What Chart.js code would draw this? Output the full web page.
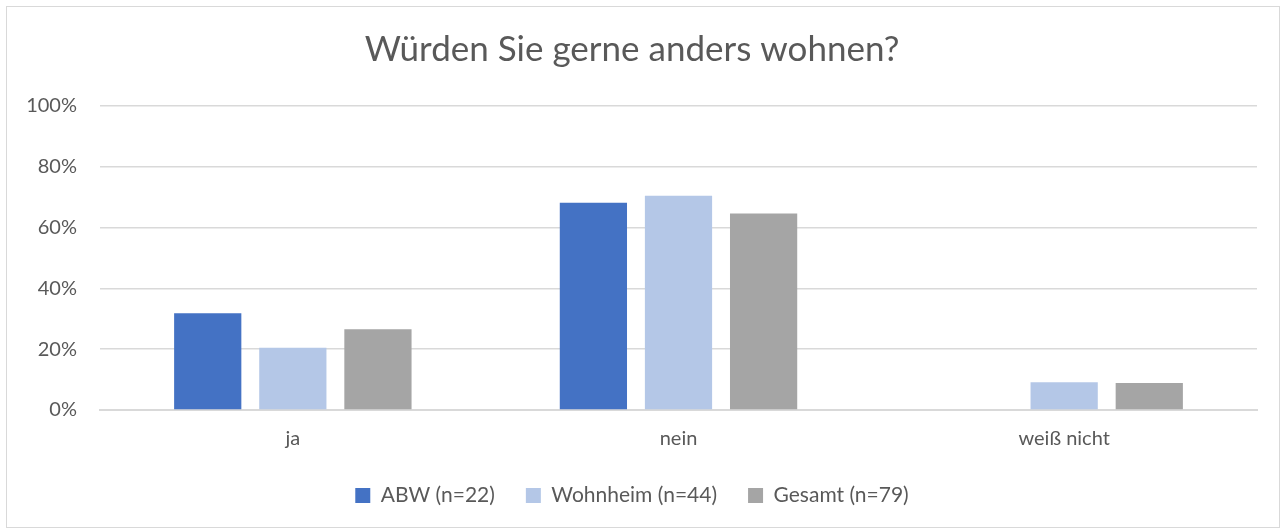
<!DOCTYPE html>
<html lang="de">
<head>
<meta charset="UTF-8" />
<title>Würden Sie gerne anders wohnen?</title>
<script src="https://cdn.jsdelivr.net/npm/chart.js@4/dist/chart.umd.min.js"></script>
<style>
	body { margin: 0; background: #fff; }
	.frame { position: absolute; left: 6px; top: 6px; width: 1272px; height: 520px; border: 1px solid #d9d9d9; }
</style>
</head>
<body>
<div class="frame">
	<canvas id="myChart"></canvas>
</div>
<script>
	const categories = ['ja', 'nein', 'weiß nicht'];
	const seriesNames = ['ABW (n=22)', 'Wohnheim (n=44)', 'Gesamt (n=79)'];
	const abw = [31.8, 68.2, 0];
	const wohnheim = [20.5, 70.5, 9.1];
	const gesamt = [26.6, 64.6, 8.9];
	const colors = ['#4472c4', '#b4c7e7', '#a5a5a5'];
	const yTicks = [0, 20, 40, 60, 80, 100];

	const fontFam = 'Lato, "Open Sans", sans-serif';
	const grey = '#595959';

	// legend block height fixed so the plot keeps the same bottom edge
	const legendHeight = {
		id: 'legendHeight',
		beforeUpdate(chart) {
			const lg = chart.legend;
			if (lg && !lg._wrapped) {
				const fit = lg.fit.bind(lg);
				lg.fit = function () { fit(); this.height = 73; };
				lg._wrapped = true;
			}
		}
	};

	const ctx = document.getElementById('myChart').getContext('2d');
	const chart = new Chart(ctx, {
		type: 'bar',
		data: {
			labels: categories,
			datasets: [abw, wohnheim, gesamt].map((vals, i) => ({
				label: seriesNames[i],
				data: vals,
				backgroundColor: colors[i],
				borderWidth: 0,
				categoryPercentage: 0.662,
				barPercentage: 0.79
			}))
		},
		plugins: [legendHeight],
		options: {
			responsive: true,
			maintainAspectRatio: false,
			animation: false,
			layout: { padding: { left: 0, right: 22, top: 0, bottom: 0 } },
			plugins: {
				title: {
					display: true,
					text: 'Würden Sie gerne anders wohnen?',
					color: grey,
					font: { family: fontFam, size: 35, weight: 'normal' },
					padding: { top: 22, bottom: 35 }
				},
				legend: {
					position: 'bottom',
					labels: {
						color: grey,
						font: { family: fontFam, size: 21 },
						boxWidth: 15,
						boxHeight: 15,
						padding: 31
					}
				},
				tooltip: { enabled: false }
			},
			scales: {
				x: {
					afterFit: (s) => { s.height = 44; },
					grid: { display: false, drawTicks: false },
					border: { color: '#d9d9d9', width: 2 },
					ticks: { color: grey, font: { family: fontFam, size: 20 }, padding: 17 }
				},
				y: {
					min: 0,
					max: 100,
					afterFit: (s) => { s.width = 93; },
					afterBuildTicks: (s) => { s.ticks = yTicks.map(v => ({ value: v })); },
					grid: { color: '#d9d9d9', lineWidth: 1.5, drawTicks: false },
					border: { display: false },
					ticks: {
						color: grey,
						font: { family: fontFam, size: 20 },
						padding: 23,
						callback: (v) => v + '%'
					}
				}
			}
		}
	});
</script>
</body>
</html>
